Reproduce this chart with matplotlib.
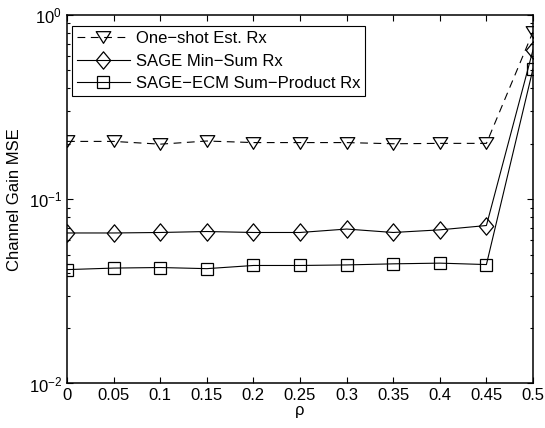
import numpy as np
import matplotlib
matplotlib.use("Agg")
import matplotlib.pyplot as plt
from matplotlib.path import Path
from matplotlib.ticker import LogLocator, FixedLocator

plt.rcParams['font.family'] = ['Liberation Sans', 'DejaVu Sans']
plt.rcParams['mathtext.fontset'] = 'custom'
plt.rcParams['mathtext.rm'] = 'Liberation Sans'
plt.rcParams['mathtext.it'] = 'Liberation Sans:italic'

# rho values and channel gain MSE per receiver
rho = [0, 0.05, 0.1, 0.15, 0.2, 0.25, 0.3, 0.35, 0.4, 0.45, 0.5]
mse_oneshot = [0.206, 0.206, 0.199, 0.207, 0.203, 0.203, 0.203, 0.200, 0.201, 0.201, 0.81]
mse_minsum = [0.0656, 0.0656, 0.066, 0.0668, 0.066, 0.066, 0.0689, 0.066, 0.0682, 0.072, 0.646]
mse_sumprod = [0.0415, 0.0423, 0.0426, 0.0420, 0.0437, 0.0437, 0.0440, 0.0446, 0.0450, 0.0442, 0.51]
labels = ['One\u2212shot Est. Rx', 'SAGE Min\u2212Sum Rx', 'SAGE\u2212ECM Sum\u2212Product Rx']
xtick_labels = ['0', '0.05', '0.1', '0.15', '0.2', '0.25', '0.3', '0.35', '0.4', '0.45', '0.5']

# flatter triangle and taller diamond, like MATLAB's markers
tri = Path([(-1, 0.8), (1, 0.8), (0, -0.8), (-1, 0.8)], closed=True)
dia = Path([(0, 1), (0.83, 0), (0, -1), (-0.83, 0), (0, 1)], closed=True)

fig = plt.figure(figsize=(5.45, 4.28), dpi=100)
ax = fig.add_axes([0.123, 0.104, 0.855, 0.861])

mk = dict(color='black', markerfacecolor='none', markeredgecolor='black',
          markeredgewidth=0.9, linewidth=0.8)
ax.plot(rho, mse_oneshot, linestyle=(0, (7, 5)), marker=tri, markersize=10.5,
        label=labels[0], **mk)
ax.plot(rho, mse_minsum, linestyle='-', marker=dia, markersize=12.5,
        label=labels[1], **mk)
ax.plot(rho, mse_sumprod, linestyle='-', marker='s', markersize=9,
        label=labels[2], **mk)

ax.set_yscale('log')
ax.set_xlim(0, 0.5)
ax.set_ylim(1e-2, 1)
ax.xaxis.set_major_locator(FixedLocator(rho))
ax.set_xticklabels(xtick_labels)
ax.yaxis.set_major_locator(LogLocator(base=10, numticks=5))
ax.yaxis.set_minor_locator(LogLocator(base=10, subs=np.arange(2, 10), numticks=20))
ax.yaxis.set_minor_formatter(plt.NullFormatter())

ax.tick_params(which='both', direction='in', top=True, right=True,
               labelsize=12, width=0.8)
ax.tick_params(which='major', length=4)
ax.tick_params(which='minor', length=2.5)
for s in ax.spines.values():
    s.set_linewidth(1.1)

ax.set_xlabel('\u03c1', fontsize=12, labelpad=0)
ax.set_ylabel('Channel Gain MSE', fontsize=12, labelpad=5)

leg = ax.legend(loc='upper left', bbox_to_anchor=(0.010, 0.970), borderaxespad=0,
                fontsize=12, fancybox=False, framealpha=1, edgecolor='black',
                borderpad=0.3, labelspacing=0.45, handlelength=3.2,
                handletextpad=0.35)
leg.get_frame().set_linewidth(0.8)

fig.savefig('out.png', dpi=100)
